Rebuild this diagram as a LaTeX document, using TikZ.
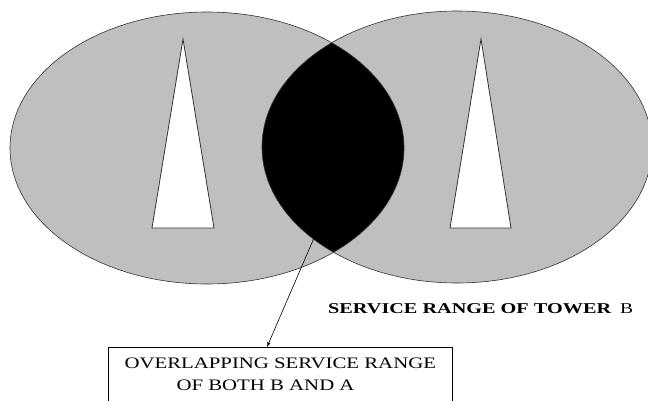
\documentclass[tikz,border=0pt]{standalone}
\usepackage{graphicx}
\usepackage{fontspec}
\setmainfont{Liberation Serif}
\newfontfamily\widefont[FakeStretch=1.3]{Liberation Serif}
\usepackage{tikz}
\usetikzlibrary{arrows, positioning}
\definecolor{rangegray}{rgb}{0.75,0.75,0.75}

\begin{document}
\begin{tikzpicture}[
    x=1pt, y=-1pt,
    coverage/.style={fill=rangegray},
    rim/.style={draw=black!80, line width=0.6pt},
    tower/.style={fill=white, draw=black!80, line width=0.8pt},
    box/.style={rectangle, draw, line width=0.6pt, minimum width=344pt, inner xsep=0pt, inner ysep=11pt, align=left, font=\fontsize{16}{22}\widefont}
]
    \useasboundingbox (0,0) rectangle (648,400);

    % 二つの基地局のサービス範囲
    \path[coverage] (207,148) ellipse [x radius=197, y radius=136];
    \path[coverage] (457,147) ellipse [x radius=195, y radius=136];

    % 重なり部分
    \begin{scope}
        \clip (207,148) ellipse [x radius=197, y radius=136];
        \fill[black] (457,147) ellipse [x radius=195, y radius=136];
    \end{scope}
    \path[rim] (207,148) ellipse [x radius=197, y radius=136];
    \path[rim] (457,147) ellipse [x radius=195, y radius=136];

    % 基地局
    \draw[tower] (183,39) -- (214,228) -- (152,228) -- cycle;
    \draw[tower] (481,39) -- (511,228) -- (450,228) -- cycle;

    \node[anchor=base west, inner sep=0pt, font=\fontsize{15}{18}\selectfont] (rangeB) at (328,313) {\scalebox{1.35}[1]{\bfseries SERVICE RANGE OF TOWER}\hspace{9pt}{\widefont B}};
    \node[box, anchor=north west] (overlap) at (108,347) {OVERLAPPING SERVICE RANGE\\\hspace*{52pt}OF BOTH B AND A};

    \coordinate (lensfoot) at (314,238);
    \coordinate (boxtop) at (267,347);
    \path[draw, -latex, line width=0.6pt] (lensfoot) -- (boxtop);
\end{tikzpicture}
\end{document}
